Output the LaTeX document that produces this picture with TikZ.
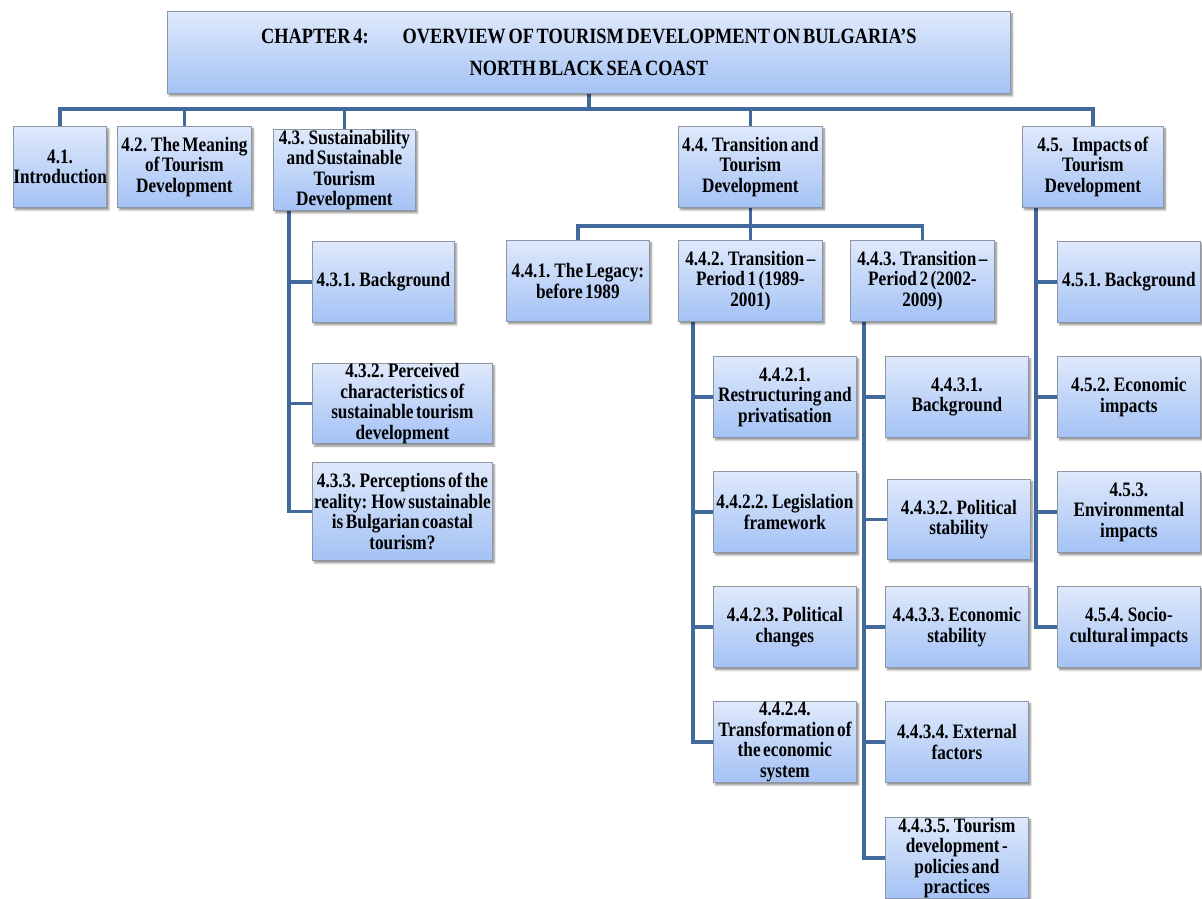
\documentclass[tikz,border=0pt]{standalone}
\usepackage{fontspec}
\setmainfont{Liberation Serif}[FakeStretch=0.84, WordSpace=0.6]
\usetikzlibrary{shadows.blur}
\pgfdeclarelayer{background}
\pgfsetlayers{background,main}

\definecolor{boxtop}{RGB}{223,233,251}
\definecolor{boxbot}{RGB}{164,194,245}
\definecolor{linkblue}{RGB}{65,105,155}
\definecolor{boxedge}{RGB}{140,150,165}

\tikzset{
  box/.style={draw=boxedge, line width=0.8pt, top color=boxtop, bottom color=boxbot,
    anchor=north west, inner sep=0pt, align=center,
    font=\fontsize{20.5}{20.5}\selectfont\bfseries,
    blur shadow={shadow xshift=2pt, shadow yshift=-2.5pt, shadow blur steps=6, shadow opacity=45}},
  link/.style={draw=linkblue, line width=3.5pt},
}

\begin{document}
\begin{tikzpicture}[x=1pt,y=-1pt]
\useasboundingbox (0,0) rectangle (1202,898);

% chapter heading
\node[box, minimum width=843pt, minimum height=82pt,
      font=\fontsize{21.8}{32}\selectfont\bfseries] (title) at (167,11)
  {CHAPTER 4:\hspace{34pt}OVERVIEW OF TOURISM DEVELOPMENT ON BULGARIA’S\\NORTH BLACK SEA COAST};

% sections
\node[box, minimum width=91pt,  minimum height=81pt] (n41) at (13,126)   {4.1.\\Introduction};
\node[box, minimum width=134pt, minimum height=81pt] (n42) at (117,126)  {4.2. The Meaning\\of Tourism\\Development};
\node[box, minimum width=142pt, minimum height=81pt] (n43) at (273,129)  {4.3. Sustainability\\and Sustainable\\Tourism\\Development};
\node[box, minimum width=144pt, minimum height=81pt] (n44) at (678,126)  {4.4. Transition and\\Tourism\\Development};
\node[box, minimum width=141pt, minimum height=81pt] (n45) at (1022,126) {4.5.\hspace{9pt}Impacts of\\Tourism\\Development};

% 4.3 subsections
\node[box, minimum width=142pt, minimum height=81pt] (n431) at (312,241) {4.3.1. Background};
\node[box, minimum width=180pt, minimum height=80pt] (n432) at (312,363) {4.3.2. Perceived\\characteristics of\\sustainable tourism\\development};
\node[box, minimum width=180pt, minimum height=98pt] (n433) at (312,462) {4.3.3. Perceptions of the\\reality: How sustainable\\is Bulgarian coastal\\tourism?};

% 4.4 subsections
\node[box, minimum width=143pt, minimum height=81pt] (n441) at (506,240) {4.4.1. The Legacy:\\before 1989};
\node[box, minimum width=144pt, minimum height=81pt] (n442) at (678,240) {4.4.2. Transition –\\Period 1 (1989-\\2001)};
\node[box, minimum width=144pt, minimum height=81pt] (n443) at (850,240) {4.4.3. Transition –\\Period 2 (2002-\\2009)};

\node[box, minimum width=143pt, minimum height=81pt] (n4421) at (713,356) {4.4.2.1.\\Restructuring and\\privatisation};
\node[box, minimum width=143pt, minimum height=81pt] (n4422) at (713,471) {4.4.2.2. Legislation\\framework};
\node[box, minimum width=143pt, minimum height=81pt] (n4423) at (713,586) {4.4.2.3. Political\\changes};
\node[box, minimum width=143pt, minimum height=81pt] (n4424) at (713,701) {4.4.2.4.\\Transformation of\\the economic\\system};

\node[box, minimum width=143pt, minimum height=81pt] (n4431) at (885,356) {4.4.3.1.\\Background};
\node[box, minimum width=143pt, minimum height=80pt] (n4432) at (887,479) {4.4.3.2. Political\\stability};
\node[box, minimum width=143pt, minimum height=81pt] (n4433) at (885,586) {4.4.3.3. Economic\\stability};
\node[box, minimum width=143pt, minimum height=81pt] (n4434) at (885,701) {4.4.3.4. External\\factors};
\node[box, minimum width=143pt, minimum height=81pt] (n4435) at (885,817) {4.4.3.5. Tourism\\development -\\policies and\\practices};

% 4.5 subsections
\node[box, minimum width=143pt, minimum height=81pt] (n451) at (1057,241) {4.5.1. Background};
\node[box, minimum width=143pt, minimum height=81pt] (n452) at (1057,356) {4.5.2. Economic\\impacts};
\node[box, minimum width=143pt, minimum height=81pt] (n453) at (1057,471) {4.5.3.\\Environmental\\impacts};
\node[box, minimum width=143pt, minimum height=81pt] (n454) at (1057,586) {4.5.4. Socio-\\cultural impacts};

\coordinate (bus) at (0,109);
\coordinate (bus44) at (0,226);

\begin{pgfonlayer}{background}
  % chapter to sections
  \draw[link] (title.south) -- (title.south |- bus);
  \draw[link] (n41.north) -- (n41.north |- bus) -- (n45.north |- bus) -- (n45.north);
  \draw[link] (n42.north) -- (n42.north |- bus);
  \draw[link] (n43.north) -- (n43.north |- bus);
  \draw[link] (n44.north) -- (n44.north |- bus);

  % 4.3 branch
  \draw[link] (n43.south west) ++(16,0) |- (n431.west);
  \draw[link] (n43.south west) ++(16,0) |- (n432.west);
  \draw[link] (n43.south west) ++(16,0) |- (n433.west);

  % 4.4 branch
  \draw[link] (n44.south) -- (n442.north);
  \draw[link] (n441.north) -- (n441.north |- bus44) -- (n443.north |- bus44) -- (n443.north);

  \draw[link] (n442.south west) ++(15,0) |- (n4421.west);
  \draw[link] (n442.south west) ++(15,0) |- (n4422.west);
  \draw[link] (n442.south west) ++(15,0) |- (n4423.west);
  \draw[link] (n442.south west) ++(15,0) |- (n4424.west);

  \draw[link] (n443.south west) ++(14,0) |- (n4431.west);
  \draw[link] (n443.south west) ++(14,0) |- (n4432.west);
  \draw[link] (n443.south west) ++(14,0) |- (n4433.west);
  \draw[link] (n443.south west) ++(14,0) |- (n4434.west);
  \draw[link] (n443.south west) ++(14,0) |- (n4435.west);

  % 4.5 branch
  \draw[link] (n45.south west) ++(14,0) |- (n451.west);
  \draw[link] (n45.south west) ++(14,0) |- (n452.west);
  \draw[link] (n45.south west) ++(14,0) |- (n453.west);
  \draw[link] (n45.south west) ++(14,0) |- (n454.west);
\end{pgfonlayer}
\end{tikzpicture}
\end{document}
